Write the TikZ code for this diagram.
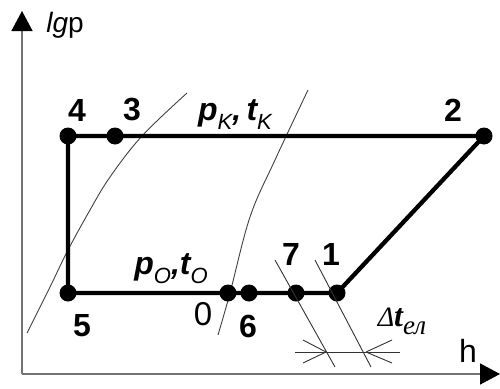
\documentclass[tikz,border=0pt]{standalone}
\usepackage{fontspec}
\setmainfont{Liberation Sans}
\newfontfamily\cyrserif{Liberation Serif}
\usetikzlibrary{arrows.meta,positioning,calc}
\newcommand{\lowsub}[2][22]{\raisebox{-0.28em}{\fontsize{#1}{#1}\selectfont\mdseries\itshape #2}}

\begin{document}
\begin{tikzpicture}[x=1pt, y=-1pt,
  dot/.style={circle, fill=black, inner sep=0pt, minimum size=17pt},
  num/.style={font=\fontsize{32}{32}\selectfont\bfseries, inner sep=0pt},
  lbl/.style={font=\fontsize{32}{32}\selectfont\bfseries\itshape, inner sep=0pt},
  cyc/.style={line width=4.3pt, line join=round},
  sat/.style={line width=0.9pt, black!75},
  iso/.style={line width=0.9pt, black!80},
  ax/.style={line width=1.5pt, black!55,
             -{Triangle[length=20pt, width=21pt, color=black]}}]

\useasboundingbox (0,0) rectangle (500,388);

% axes lg p over h
\coordinate (org) at (22,374);
\coordinate (ytop) at (22,11);
\coordinate (xend) at (500,374);
\draw[ax] (org) -- (ytop);
\draw[ax] (org) -- (xend);
\node[font=\fontsize{28}{28}\selectfont, inner sep=0pt] (lgp) at (65,25) {\textit{lg}p};
\node[font=\fontsize{32}{32}\selectfont, inner sep=0pt] (hax) at (468,351) {h};

% saturation lines
\draw[sat] plot[smooth, tension=0.6] coordinates
  {(27,333) (50,287) (68,250) (90,210) (110,177) (142,136) (187,93)};
\draw[sat] plot[smooth, tension=0.6] coordinates
  {(218,335) (230,293) (250,217) (275,160) (308,90)};

% state points of the cycle
\node[dot] (p4) at (68,136) {};
\node[dot] (p3) at (115,136) {};
\node[dot] (p2) at (484,136) {};
\node[dot] (p5) at (68,293) {};
\node[dot] (p0) at (228,293) {};
\node[dot] (p6) at (249,293) {};
\node[dot] (p7) at (296,293) {};
\node[dot] (p1) at (337,293) {};

\draw[cyc] (p1.center) -- (p2.center) -- (p4.center) -- (p5.center) -- cycle;

% isotherms through 7 and 1, with the superheat span
\draw[iso] ($(p7.center)+(-21,-33)$) -- ($(p7.center)+(39,74)$);
\draw[iso] ($(p1.center)+(-22,-33)$) -- ($(p1.center)+(34,74)$);
\coordinate (d7) at (326,352);
\coordinate (d1) at (366,352);
\draw[iso] (295,352) -- (400,352);
\draw[iso] (d7) -- ++(-23,-12) (d7) -- ++(-23,11);
\draw[iso] (d1) -- ++(26,-12) (d1) -- ++(26,11);

% point numbers
\node[num] (n4) at (77,110) {4};
\node[num] (n3) at (132,110) {3};
\node[num] (n2) at (453,110) {2};
\node[num] (n5) at (82,326) {5};
\node[num, font=\fontsize{33}{33}\selectfont] (n0) at (203,314) {0};
\node[num] (n6) at (248,326) {6};
\node[num] (n7) at (291,254) {7};
\node[num] (n1) at (331,254) {1};

% pressures and temperatures
\node[lbl] (pk) at (235,115) {p\lowsub{K},\,t\lowsub{K}};
\node[lbl] (po) at (171,269) {p\lowsub{O},t\lowsub{O}};
\node[inner sep=0pt] (dt) at (402,321)
  {\cyrserif\fontsize{28}{28}\selectfont\itshape Δ{\fontsize{32}{32}\selectfont\bfseries t}\lowsub[27]{ел}};

\end{tikzpicture}
\end{document}
